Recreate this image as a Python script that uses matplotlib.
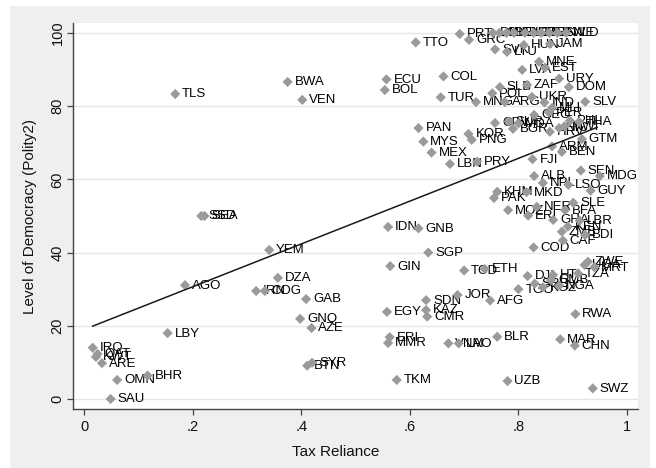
import matplotlib
matplotlib.use("Agg")
import matplotlib.pyplot as plt
from matplotlib.patches import Rectangle

plt.rcParams['font.family'] = ['Liberation Sans', 'DejaVu Sans']

# --- data: (country code, tax reliance, polity2 rescaled 0-100) ---
codes = ["TLS", "BWA", "VEN", "SSD", "SEA", "IDN", "GNB", "YEM", "AGO", "DZA",
         "IRN", "COG", "GAB", "GNQ", "AZE", "SYR", "BTN", "LBY", "IRQ", "QAT",
         "KWT", "ARE", "OMN", "BHR", "SAU", "ECU", "BOL", "COL", "TUR", "TTO",
         "PAN", "MYS", "MEX", "LBN", "PRY", "KOR", "PNG", "MNG", "POL", "SLB",
         "ZAF", "ARG", "UKR", "IND", "MLI", "PER", "SLV", "DOM", "URY", "EST",
         "LVA", "MNE", "SVK", "HUN", "LTU", "JAM", "GRC", "PRT",
         "DNK", "CHE", "DEU", "AUS", "NOR", "JPN", "BEL", "FIN", "SWE", "NLD",
         "GEO", "CPV", "SUR", "BGR", "MDA", "THA", "PHL", "HRV", "NIC", "MWI",
         "GTM", "ARM", "BEN", "FJI", "SEN", "MDG", "ALB", "LSO", "NPL", "MKD",
         "GUY", "KHM", "PAK", "MOZ", "NER", "SLE", "BFA", "ERI2", "KEN", "LBR",
         "ZMB", "BDI", "CAF", "COD", "GHA", "SGP", "GIN", "TCD", "ETH", "DJI",
         "HTI", "TZA", "ZWE", "UGA", "MRT", "TGO", "SRB", "KGZ", "GMB", "NGA",
         "SDN", "JOR", "AFG", "EGY", "KAZ", "CMR", "RWA", "ERI", "MMR", "VNM",
         "LAO", "BLR", "MAR", "CHN", "TKM", "UZB", "SWZ"]

tax_reliance = [0.168, 0.375, 0.402, 0.216, 0.222, 0.560, 0.616, 0.341, 0.186, 0.357,
                0.317, 0.333, 0.409, 0.398, 0.419, 0.420, 0.411, 0.154, 0.016, 0.025,
                0.022, 0.033, 0.061, 0.117, 0.049, 0.557, 0.554, 0.662, 0.657, 0.611,
                0.616, 0.625, 0.640, 0.674, 0.724, 0.708, 0.714, 0.722, 0.752, 0.766,
                0.816, 0.775, 0.825, 0.848, 0.862, 0.856, 0.923, 0.893, 0.875, 0.849,
                0.807, 0.838, 0.757, 0.810, 0.779, 0.858, 0.709, 0.692,
                0.753, 0.765, 0.778, 0.792, 0.812, 0.828, 0.842, 0.857, 0.872, 0.888,
                0.829, 0.757, 0.782, 0.790, 0.800, 0.912, 0.895, 0.858, 0.875, 0.885,
                0.917, 0.862, 0.880, 0.826, 0.915, 0.950, 0.829, 0.892, 0.845, 0.815,
                0.933, 0.761, 0.755, 0.781, 0.834, 0.901, 0.886, 0.818, 0.891, 0.913,
                0.880, 0.923, 0.882, 0.828, 0.864, 0.634, 0.564, 0.700, 0.738, 0.817,
                0.864, 0.910, 0.928, 0.922, 0.940, 0.800, 0.830, 0.845, 0.860, 0.875,
                0.630, 0.688, 0.748, 0.558, 0.630, 0.632, 0.905, 0.563, 0.560, 0.671,
                0.690, 0.761, 0.877, 0.904, 0.576, 0.780, 0.937]

democracy = [83.3, 86.6, 81.7, 50.0, 50.0, 47.0, 46.6, 40.7, 31.1, 33.1,
             29.5, 29.5, 27.3, 21.9, 19.4, 9.9, 9.1, 18.0, 14.0, 12.3,
             11.5, 9.8, 5.2, 6.4, 0.0, 87.3, 84.4, 88.1, 82.4, 97.4,
             74.0, 70.3, 67.3, 64.2, 64.8, 72.4, 70.8, 81.1, 83.5, 85.2,
             85.8, 81.1, 82.5, 81.0, 79.5, 78.3, 81.2, 85.2, 87.5, 90.5,
             89.9, 92.1, 95.5, 96.7, 94.8, 97.0, 98.1, 99.7,
             100, 100, 100, 100, 100, 100, 100, 100, 100, 100,
             77.6, 75.4, 75.8, 73.8, 75.3, 75.7, 76.0, 73.0, 74.0, 74.5,
             71.0, 69.0, 67.5, 65.5, 62.4, 60.9, 60.9, 58.5, 59.0, 56.5,
             56.9, 56.6, 54.9, 51.6, 52.5, 53.6, 51.6, 50.1, 47.1, 48.7,
             45.7, 44.8, 43.3, 41.4, 48.9, 40.0, 36.3, 35.1, 35.5, 33.6,
             33.9, 34.3, 37.5, 36.6, 36.0, 30.0, 31.5, 30.5, 32.5, 31.0,
             27.0, 28.4, 26.9, 23.8, 24.3, 22.5, 23.2, 16.9, 15.3, 15.2,
             15.2, 17.0, 16.3, 14.6, 5.2, 4.9, 2.9]

# labels shown on the chart (duplicate placeholder stripped)
labels = [c.rstrip("2") for c in codes]

# linear fit line endpoints (as drawn)
fit_x = [0.016, 0.945]
fit_y = [19.9, 74.2]

x_ticks = [0, 0.2, 0.4, 0.6, 0.8, 1.0]
x_tick_labels = ["0", ".2", ".4", ".6", ".8", "1"]
y_ticks = [0, 20, 40, 60, 80, 100]

W, H = 656, 468
fig = plt.figure(figsize=(W / 100, H / 100), dpi=100)
fig.patch.set_facecolor("white")
bg = Rectangle((10 / W, 0), (650 - 10) / W, (H - 6) / H,
               transform=fig.transFigure, facecolor="#efefef",
               edgecolor="none", zorder=-10)
fig.add_artist(bg)

ax = fig.add_axes([73 / W, 1 - 409 / H, (638 - 73) / W, (409 - 23) / H])
ax.set_zorder(1)
ax.set_facecolor("white")

ax.scatter(tax_reliance, democracy, marker="D", s=27, color="#9a9a9a",
           edgecolors="none", zorder=3)
for lab, xv, yv in zip(labels, tax_reliance, democracy):
    ax.annotate(lab, (xv, yv), xytext=(5.0, -0.3), textcoords="offset points",
                va="center", ha="left", fontsize=9.5, color="#000000", zorder=2)

ax.plot(fit_x, fit_y, color="#1a1a1a", lw=1.1, zorder=4)

ax.set_xlim(-0.0203, 1.0203)
ax.set_ylim(-2.73, 102.7)
ax.set_xticks(x_ticks)
ax.set_xticklabels(x_tick_labels)
ax.set_yticks(y_ticks)
ax.yaxis.grid(True, color="#e6e6e6", lw=1.0, zorder=0)
ax.set_axisbelow(True)

for s in ["top", "right"]:
    ax.spines[s].set_visible(False)
for s in ["left", "bottom"]:
    ax.spines[s].set_color("#444444")
    ax.spines[s].set_linewidth(1.0)

ax.tick_params(axis="both", colors="#444444", length=4, width=0.9,
               labelsize=10.5, labelcolor="#111111")
ax.tick_params(axis="x", pad=4)
ax.tick_params(axis="y", pad=2)
for t in ax.get_yticklabels():
    t.set_rotation(90)
    t.set_va("center")

ax.set_xlabel("Tax Reliance", fontsize=11, color="#111111")
ax.set_ylabel("Level of Democracy (Polity2)", fontsize=11, color="#111111")
ax.xaxis.set_label_coords((336 - 73) / 565, (409 - 445) / 386)
ax.yaxis.set_label_coords((37 - 73) / 565, 0.5)

fig.savefig("out.png", dpi=100, facecolor=fig.get_facecolor())
